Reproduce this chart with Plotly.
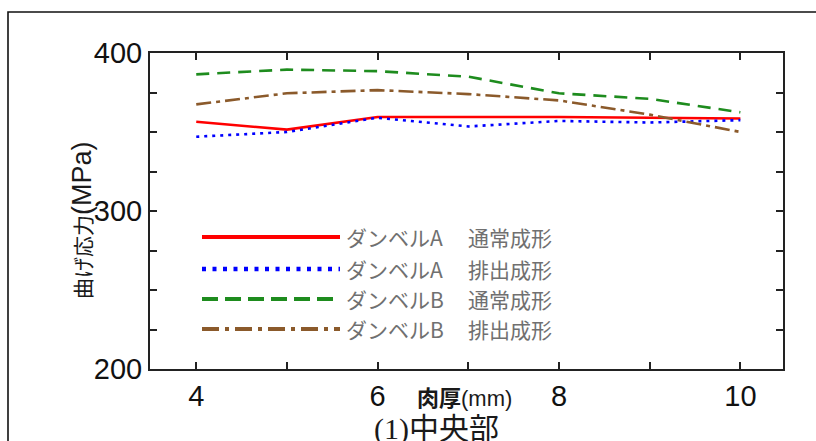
import plotly.graph_objects as go

# Wall thickness (mm) and bending stress (MPa) at the centre section
thickness = [4, 5, 6, 7, 8, 9, 10]
dumbbell_a_normal = [356.5, 351.5, 359.5, 359.5, 359.5, 359.0, 358.5]
dumbbell_a_exhaust = [347.0, 350.0, 359.0, 353.5, 357.0, 356.0, 357.5]
dumbbell_b_normal = [386.5, 389.5, 388.5, 385.0, 374.5, 371.0, 362.5]
dumbbell_b_exhaust = [367.5, 374.5, 376.5, 374.0, 370.0, 361.0, 350.0]

series_names = ["ダンベルA", "ダンベルA", "ダンベルB", "ダンベルB"]
series_methods = ["通常成形", "排出成形", "通常成形", "排出成形"]
series_values = [dumbbell_a_normal, dumbbell_a_exhaust, dumbbell_b_normal, dumbbell_b_exhaust]

x_ticks = [4, 5, 6, 7, 8, 9, 10]
x_tick_text = ["4", "", "6", "", "8", "", "10"]
y_ticks = [200, 225, 250, 275, 300, 325, 350, 375, 400]
y_tick_text = ["200", "", "", "", "300", "", "", "", "400"]

W, H = 816, 441
L, R, T, B = 150, 33, 53, 72
PW, PH = W - L - R, H - T - B


def px(x):
    return (x - L) / PW


def py(y):
    return (H - B - y) / PH


colors = ["#ff0000", "#0000ff", "#1e8c1e", "#8b5a2b"]
line_dash = ["solid", "3px,5px", "13px,8px", "15px,5px,4px,5px"]
legend_dash = ["solid", "4px,6.5px", "16px,7px", "17px,6px,4px,6px"]
legend_width = [4, 4.5, 4, 4]

fig = go.Figure()
for vals, c, d in zip(series_values, colors, line_dash):
    fig.add_trace(go.Scatter(
        x=thickness, y=vals, mode="lines",
        line=dict(color=c, width=2.6, dash=d),
        showlegend=False, hoverinfo="skip",
    ))

shapes = []
annotations = []

# hand-built legend with long line samples
row_y = [237, 269, 299, 329]
legend_font = dict(family="Noto Sans CJK JP", size=21, color="#707070")
for i in range(4):
    shapes.append(dict(
        type="line", xref="paper", yref="paper",
        x0=px(202), x1=px(340), y0=py(row_y[i]), y1=py(row_y[i]),
        line=dict(color=colors[i], width=legend_width[i], dash=legend_dash[i]),
    ))
    annotations.append(dict(
        text=series_names[i], xref="paper", yref="paper",
        x=px(344), y=py(row_y[i]), xanchor="left", yanchor="middle",
        showarrow=False, font=legend_font,
    ))
    annotations.append(dict(
        text=series_methods[i], xref="paper", yref="paper",
        x=px(466), y=py(row_y[i]), xanchor="left", yanchor="middle",
        showarrow=False, font=legend_font,
    ))

# outer frame (top and left edges)
shapes.append(dict(
    type="path", xref="paper", yref="paper",
    path=f"M {px(8)} {py(441)} L {px(8)} {py(12)} L {px(816)} {py(12)}",
    line=dict(color="#111111", width=1.6),
))

# axis titles and caption
annotations.append(dict(
    text="曲げ応力<span style='font-size:27px'>(MPa)</span>",
    xref="paper", yref="paper", x=px(82), y=py(220),
    xanchor="center", yanchor="middle", textangle=-90, showarrow=False,
    font=dict(family="Liberation Sans, Noto Sans CJK JP", size=21, color="#1a1a1a"),
))
annotations.append(dict(
    text="<b>肉厚</b>(mm)", xref="paper", yref="paper", x=px(464), y=py(398),
    xanchor="center", yanchor="middle", showarrow=False,
    font=dict(family="Liberation Sans Narrow, Liberation Sans, Noto Sans CJK JP", size=22, color="#1a1a1a"),
))
annotations.append(dict(
    text="(1)中央部", xref="paper", yref="paper", x=px(436), y=py(429),
    xanchor="center", yanchor="middle", showarrow=False,
    font=dict(family="Liberation Serif, Noto Sans CJK JP", size=30, color="#1a1a1a"),
))

axis_common = dict(
    showline=True, linecolor="#222222", linewidth=2,
    mirror="ticks", ticks="inside", ticklen=7, tickwidth=1.5, tickcolor="#222222",
    showgrid=False, zeroline=False,
    tickfont=dict(family="Liberation Sans", size=29, color="#111111"),
)

fig.update_layout(
    width=W, height=H,
    margin=dict(l=L, r=R, t=T, b=B),
    paper_bgcolor="white", plot_bgcolor="white",
    xaxis=dict(range=[3.49, 10.47], tickmode="array", tickvals=x_ticks,
               ticktext=x_tick_text, **axis_common),
    yaxis=dict(range=[200, 400], tickmode="array", tickvals=y_ticks,
               ticktext=y_tick_text, **axis_common),
    shapes=shapes, annotations=annotations,
)

fig.write_html("out.html")
